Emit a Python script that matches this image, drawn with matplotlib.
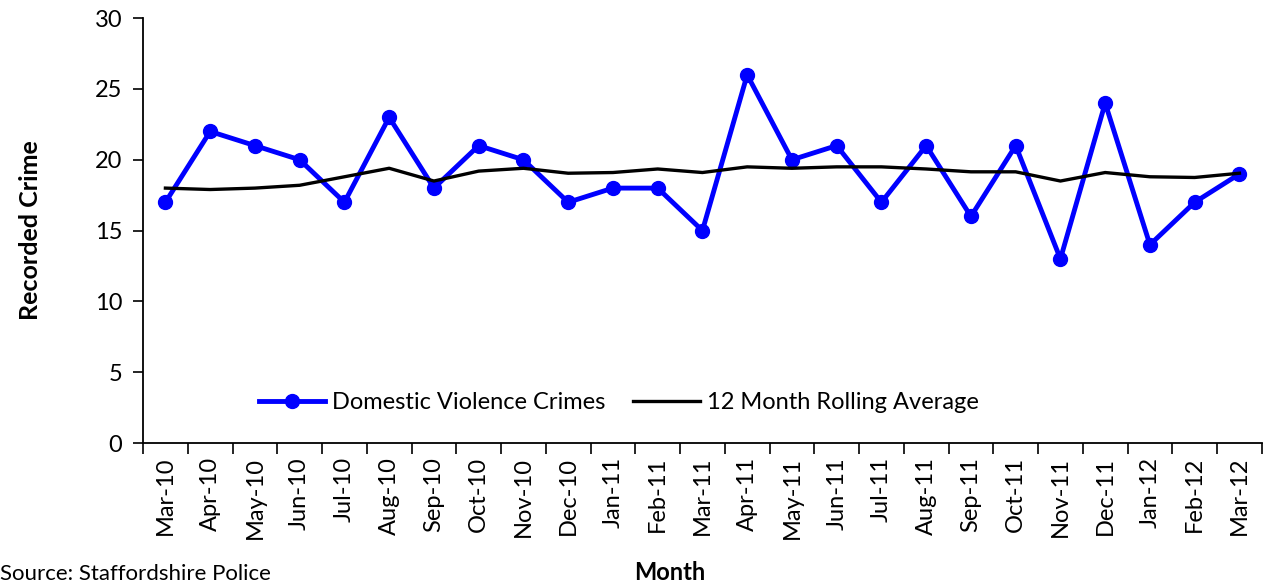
import matplotlib.pyplot as plt
from matplotlib.ticker import FixedLocator, NullFormatter

plt.rcParams['font.family'] = ['Lato', 'DejaVu Sans']

months = ['Mar-10', 'Apr-10', 'May-10', 'Jun-10', 'Jul-10', 'Aug-10', 'Sep-10',
          'Oct-10', 'Nov-10', 'Dec-10', 'Jan-11', 'Feb-11', 'Mar-11', 'Apr-11',
          'May-11', 'Jun-11', 'Jul-11', 'Aug-11', 'Sep-11', 'Oct-11', 'Nov-11',
          'Dec-11', 'Jan-12', 'Feb-12', 'Mar-12']
dv_crimes = [17, 22, 21, 20, 17, 23, 18, 21, 20, 17, 18, 18, 15, 26, 20, 21,
             17, 21, 16, 21, 13, 24, 14, 17, 19]
rolling_avg = [18.0, 17.9, 18.0, 18.2, 18.8, 19.4, 18.5, 19.2, 19.4, 19.05,
               19.1, 19.35, 19.1, 19.5, 19.4, 19.5, 19.5, 19.35, 19.15, 19.15,
               18.5, 19.1, 18.8, 18.75, 19.05]

fig = plt.figure(figsize=(12.67, 5.82), dpi=100)
ax = fig.add_axes([0.1129, 0.2388, 0.883, 0.730])

x = range(len(months))
ax.plot(x, dv_crimes, color='#0000ff', lw=3.5, marker='o', ms=10,
        label='Domestic Violence Crimes', zorder=3)
ax.plot(x, rolling_avg, color='black', lw=2.4, label='12 Month Rolling Average',
        zorder=4)

ax.set_xlim(-0.5, len(months) - 0.5)
ax.set_ylim(0, 30)
ax.set_yticks(range(0, 31, 5))

# category labels centred, tick marks between categories
ax.set_xticks(list(x))
ax.set_xticklabels(months, rotation=90, fontsize=17)
ax.xaxis.set_minor_locator(FixedLocator([i - 0.5 for i in range(len(months) + 1)]))
ax.xaxis.set_minor_formatter(NullFormatter())
ax.tick_params(axis='x', which='major', length=0, pad=10)
ax.tick_params(axis='x', which='minor', length=8, width=1.2, direction='out')
ax.tick_params(axis='y', labelsize=17, length=7, width=1.2, pad=8)

for side in ('top', 'right'):
    ax.spines[side].set_visible(False)
for side in ('left', 'bottom'):
    ax.spines[side].set_linewidth(1.3)

ax.set_ylabel('Recorded Crime', fontsize=18, fontweight='bold', labelpad=38)
fig.text(0.529, 0.004, 'Month', fontsize=17, fontweight='bold', ha='center')
fig.text(0.0, 0.004, 'Source: Staffordshire Police', fontsize=16, ha='left')

ax.legend(loc='lower center', bbox_to_anchor=(0.425, 0.02), ncol=2, frameon=False,
          fontsize=17, handlelength=2.8, columnspacing=1.2, handletextpad=0.3)

fig.savefig('out.png', dpi=100)
